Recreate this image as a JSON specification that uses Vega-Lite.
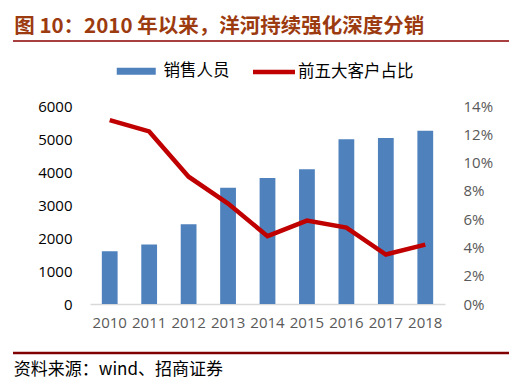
{
  "$schema": "https://vega.github.io/schema/vega-lite/v6.json",
  "padding": {"left": 11, "top": 16, "right": 0, "bottom": 10},
  "background": "white",
  "bounds": "full",
  "align": "none",
  "columns": 1,
  "spacing": 21,
  "resolve": {"legend": {"color": "independent", "stroke": "independent"}},
  "config": {
    "view": {"stroke": null},
    "font": "Noto Sans CJK SC"
  },
  "datasets": {
    "sales": [
      {"year": "2010", "staff": 1600, "top5": 0.130},
      {"year": "2011", "staff": 1800, "top5": 0.122},
      {"year": "2012", "staff": 2420, "top5": 0.090},
      {"year": "2013", "staff": 3520, "top5": 0.071},
      {"year": "2014", "staff": 3820, "top5": 0.048},
      {"year": "2015", "staff": 4080, "top5": 0.059},
      {"year": "2016", "staff": 4990, "top5": 0.054},
      {"year": "2017", "staff": 5030, "top5": 0.035},
      {"year": "2018", "staff": 5250, "top5": 0.042}
    ],
    "bottomEdge": [{"k": 0}],
    "topEdge": [{"k": 1}]
  },
  "concat": [
    {
      "width": 496,
      "height": 1,
      "title": {"text": "图 10：2010 年以来，洋河持续强化深度分销", "anchor": "start", "fontSize": 20.5, "fontWeight": "bold", "color": "#9C3A10", "font": "Noto Sans CJK SC", "offset": 3, "dx": 2},
      "data": {"name": "bottomEdge"},
      "mark": {"type": "rule", "color": "#8B0000", "strokeWidth": 1.5},
      "encoding": {"y": {"field": "k", "type": "quantitative", "scale": {"domain": [0, 1]}, "axis": null}}
    },
    {
      "width": 496,
      "height": 198,
      "data": {"name": "sales"},
      "encoding": {
        "x": {"field": "year", "type": "ordinal", "scale": {"range": [77, 432], "paddingInner": 0.6, "paddingOuter": 0.3},
          "axis": {"title": null, "labelAngle": 0, "ticks": false, "labelPadding": 11, "labelFont": "Open Sans", "labelFontSize": 15, "labelColor": "#595959", "domainColor": "#D9D9D9", "domainWidth": 1.5}}
      },
      "layer": [
        {
          "mark": {"type": "bar"},
          "encoding": {
            "y": {"field": "staff", "type": "quantitative", "scale": {"domain": [0, 6000]},
              "axis": {"orient": "left", "offset": -77, "values": [0, 1000, 2000, 3000, 4000, 5000, 6000], "format": "d", "domain": false, "ticks": false, "grid": false, "labelFont": "Open Sans", "labelFontSize": 15, "labelColor": "#000000", "labelPadding": 18, "title": null}},
            "color": {"datum": "销售人员", "type": "nominal", "scale": {"range": ["#4F81BD"]},
              "legend": {"orient": "none", "legendX": 95.5, "legendY": -43, "title": null, "padding": 0, "symbolType": "M0,-0.54L6,-0.54L6,0.54L0,0.54Z", "symbolSize": 169, "symbolStrokeWidth": 0, "labelFontSize": 16.5, "labelColor": "#000000", "labelOffset": 38.5}}
          }
        },
        {
          "mark": {"type": "line", "strokeWidth": 4.5},
          "encoding": {
            "y": {"field": "top5", "type": "quantitative", "scale": {"domain": [0, 0.14]},
              "axis": {"orient": "right", "offset": -64, "values": [0, 0.02, 0.04, 0.06, 0.08, 0.1, 0.12, 0.14], "format": ".0%", "domain": false, "ticks": false, "grid": false, "labelFont": "Open Sans", "labelFontSize": 15, "labelColor": "#595959", "labelPadding": 18, "title": null}},
            "stroke": {"datum": "前五大客户占比", "type": "nominal", "scale": {"range": ["#C00000"]},
              "legend": {"orient": "none", "legendX": 231, "legendY": -43, "title": null, "padding": 0, "symbolType": "M0,0L6.46,0", "symbolSize": 169, "symbolStrokeWidth": 4.5, "labelFontSize": 16.5, "labelColor": "#000000", "labelOffset": 36}}
          }
        }
      ],
      "resolve": {"scale": {"y": "independent"}}
    },
    {
      "width": 496,
      "height": 1,
      "title": {"text": "资料来源：wind、招商证券", "orient": "bottom", "anchor": "start", "fontSize": 17, "fontWeight": "normal", "color": "#000000", "font": "Noto Sans CJK SC", "offset": 8, "dx": 2},
      "data": {"name": "topEdge"},
      "mark": {"type": "rule", "color": "#800000", "strokeWidth": 2.5},
      "encoding": {"y": {"field": "k", "type": "quantitative", "scale": {"domain": [0, 1]}, "axis": null}}
    }
  ]
}
